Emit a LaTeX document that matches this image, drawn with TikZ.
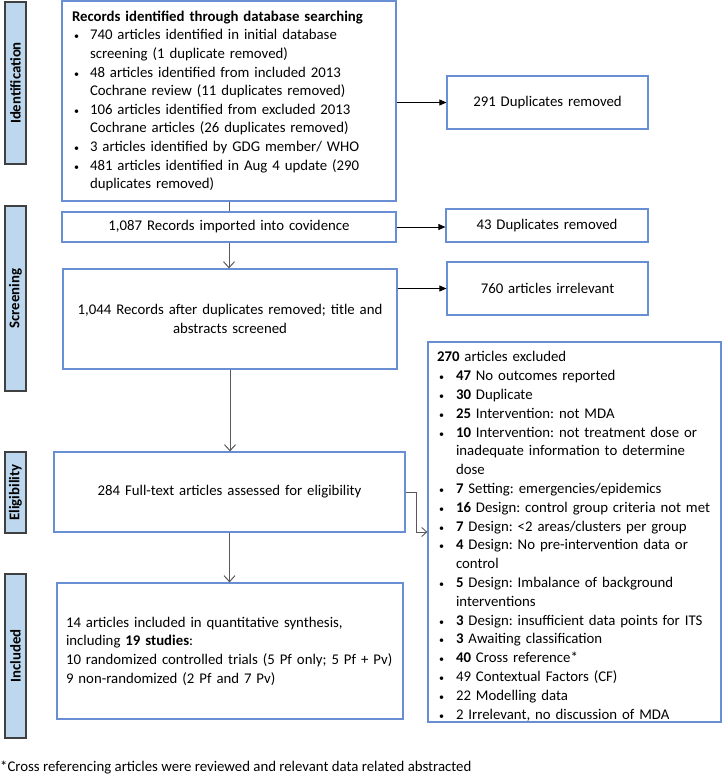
\documentclass[tikz,border=0pt]{standalone}
\usepackage{fontspec}
\setmainfont{Carlito}
\usepackage{enumitem}
\usetikzlibrary{arrows.meta}
\definecolor{boxblue}{RGB}{104,142,212}
\definecolor{barblue}{RGB}{189,215,238}
\definecolor{bargray}{RGB}{64,64,64}
\definecolor{linegray}{RGB}{89,89,89}
\newcommand{\flowfont}{\fontsize{14.8}{18.6}\selectfont\frenchspacing}
\newcommand{\smallbullet}{{\fontsize{10}{10}\selectfont\textbullet}}
\setlist[itemize]{label=\smallbullet, leftmargin=18pt, labelsep=11pt,
  itemsep=0pt, parsep=0pt, topsep=0pt, partopsep=0pt}
\tikzset{
    flowbox/.style={
        draw=boxblue,
        line width=1.2pt,
        inner ysep=0pt,
        inner xsep=10pt,
        font=\flowfont,
    },
    stagebar/.style={
        draw=bargray,
        fill=barblue,
        line width=1.6pt,
        rotate=90,
        inner sep=0pt,
        minimum height=21pt,
        font=\flowfont\bfseries,
    },
    downarrow/.style={
        draw=linegray,
        line width=1pt,
        -{Straight Barb[length=6pt,width=11pt]},
    },
    sidearrow/.style={
        draw=black,
        line width=0.8pt,
        -{Triangle[length=7pt,width=6pt]},
    },
    elbowarrow/.style={
        draw=linegray,
        line width=0.9pt,
        -{Straight Barb[length=5pt,width=9pt]},
    },
}

\begin{document}
\begin{tikzpicture}[x=1pt, y=-1pt]
    \useasboundingbox (0,0) rectangle (723,780);

    % Stage bars on the left, vertical text
    \node[stagebar, minimum width=162pt] (ident) at (15.5,83) {Identification};
    \node[stagebar, minimum width=185pt] (screen) at (15.5,298.5) {Screening};
    \node[stagebar, minimum width=81pt] (elig) at (15.5,492.5) {Eligibility};
    \node[stagebar, minimum width=164pt] (incl) at (15.5,656) {Included};

    % Main column
    \node[flowbox, text width=314pt, minimum height=200pt, align=left] (src) at (229,101) {%
      \textbf{Records identified through database searching}
      \begin{itemize}
        \item 740 articles identified in initial database\newline screening (1 duplicate removed)
        \item 48 articles identified from included 2013\newline Cochrane review (11 duplicates removed)
        \item 106 articles identified from excluded 2013\newline Cochrane articles (26 duplicates removed)
        \item 3 articles identified by GDG member/ WHO
        \item 481 articles identified in Aug 4 update (290\newline duplicates removed)
      \end{itemize}};
    \node[flowbox, text width=314pt, minimum height=30pt, align=center] (imp) at (229,227)
      {1,087 Records imported into covidence};
    \node[flowbox, text width=314pt, minimum height=100pt, align=center] (scr) at (230,319)
      {1,044 Records after duplicates removed; title and\\ abstracts screened};
    \node[flowbox, text width=331pt, minimum height=80pt, align=center] (full) at (229.5,492)
      {284 Full-text articles assessed for eligibility};
    \node[flowbox, text width=328pt, inner xsep=9pt, minimum height=136pt, align=left] (inc) at (230,651)
      {14 articles included in quantitative synthesis,\\
       including \textbf{19 studies}:\\
       10 randomized controlled trials (5 Pf only; 5 Pf + Pv)\\
       9 non-randomized (2 Pf and 7 Pv)};

    % Side column
    \node[flowbox, text width=181pt, minimum height=53pt, align=center] (dup1) at (547.5,102.5)
      {291 Duplicates removed};
    \node[flowbox, text width=182pt, minimum height=33pt, align=center] (dup2) at (547,225.5)
      {43 Duplicates removed};
    \node[flowbox, text width=181pt, minimum height=53pt, align=center] (irr) at (547.5,288.5)
      {760 articles irrelevant};
    \node[flowbox, text width=275pt, inner xsep=9pt, minimum height=380pt, align=left] (excl) at (574.5,532) {%
      \fontsize{14.8}{18.8}\selectfont
      \rule{0pt}{19pt}\textbf{270} articles excluded
      \begin{itemize}[leftmargin=19pt, labelsep=12pt]
        \item \textbf{47} No outcomes reported
        \item \textbf{30} Duplicate
        \item \textbf{25} Intervention: not MDA
        \item \textbf{10} Intervention: not treatment dose or\newline inadequate information to determine\newline dose
        \item \textbf{7} Setting: emergencies/epidemics
        \item \textbf{16} Design: control group criteria not met
        \item \textbf{7} Design: <2 areas/clusters per group
        \item \textbf{4} Design: No pre-intervention data or\newline control
        \item \textbf{5} Design: Imbalance of background\newline interventions
        \item \textbf{3} Design: insufficient data points for ITS
        \item \textbf{3} Awaiting classification
        \item \textbf{40} Cross reference*
        \item 49 Contextual Factors (CF)
        \item 22 Modelling data
        \item 2 Irrelevant, no discussion of MDA
      \end{itemize}};

    % Footnote
    \node[font=\flowfont, anchor=west, inner sep=0pt] (note) at (0,768)
      {*Cross referencing articles were reviewed and relevant data related abstracted};

    % Connectors
    \draw[draw=linegray, line width=1pt] (src.south) -- (imp.north);
    \draw[downarrow] (imp.south) -- (imp.south |- scr.north);
    \draw[downarrow] (scr.south) -- (scr.south |- full.north);
    \draw[downarrow] (full.south) -- (full.south |- inc.north);
    \draw[sidearrow] (dup1.west -| src.east) -- (dup1.west);
    \draw[sidearrow] (imp.east) -- (imp.east -| dup2.west);
    \draw[sidearrow] (irr.west -| scr.east) -- (irr.west);
    \draw[elbowarrow] (full.east) -- ++(11,0) |- (excl.west);
\end{tikzpicture}
\end{document}
